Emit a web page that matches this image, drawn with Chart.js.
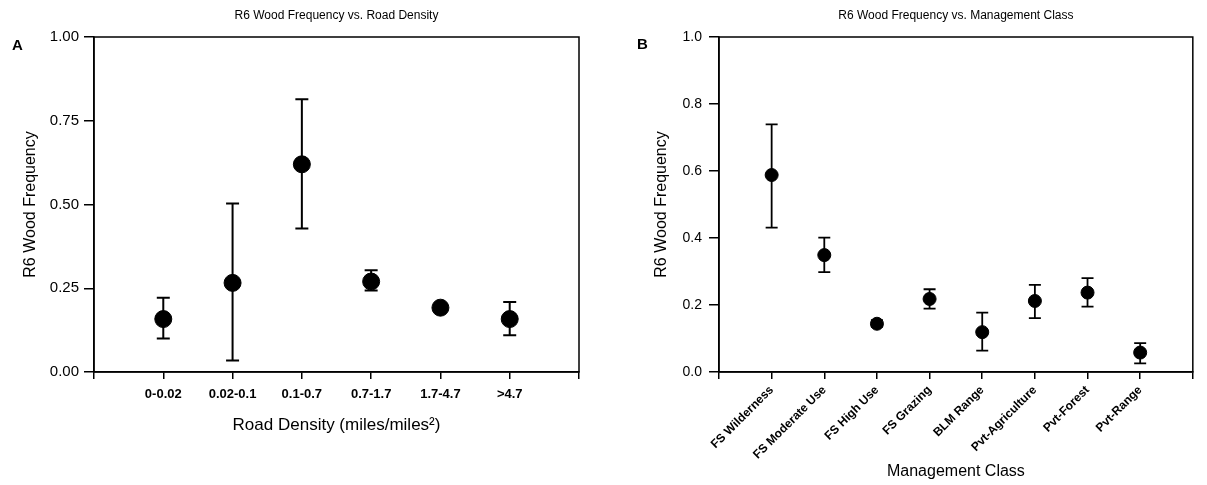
<!DOCTYPE html>
<html>
<head>
<meta charset="utf-8">
<script src="https://cdn.jsdelivr.net/npm/chart.js@4"></script>
<style>
  body { margin: 0; background: #fff; width: 1207px; height: 485px; position: relative; overflow: hidden; }
  .panel { position: absolute; top: 0; height: 485px; }
  .tag { position: absolute; font: bold 15px 'Liberation Sans', Arial, sans-serif; color: #000; }
</style>
</head>
<body>
<div class="panel" style="left:0;width:600px"><canvas id="roadChart" width="600" height="485"></canvas></div>
<div class="panel" style="left:600px;width:607px"><canvas id="mgmtChart" width="607" height="485"></canvas></div>
<div class="tag" style="left:12px;top:36px">A</div>
<div class="tag" style="left:637px;top:35px">B</div>
<script>
// Panel A data
var roadCategories = ['0-0.02', '0.02-0.1', '0.1-0.7', '0.7-1.7', '1.7-4.7', '>4.7'];
var roadMean = [0.158, 0.266, 0.62, 0.27, 0.192, 0.158];
var roadLow = [0.10, 0.034, 0.428, 0.243, 0.183, 0.11];
var roadHigh = [0.222, 0.503, 0.814, 0.304, 0.201, 0.209];

// Panel B data
var mgmtCategories = ['FS Wilderness', 'FS Moderate Use', 'FS High Use', 'FS Grazing', 'BLM Range', 'Pvt-Agriculture', 'Pvt-Forest', 'Pvt-Range'];
var mgmtMean = [0.588, 0.349, 0.144, 0.218, 0.119, 0.212, 0.237, 0.058];
var mgmtLow = [0.431, 0.298, 0.135, 0.189, 0.064, 0.161, 0.195, 0.026];
var mgmtHigh = [0.739, 0.401, 0.155, 0.247, 0.177, 0.26, 0.28, 0.086];

var roadTicksA = [0, 0.25, 0.5, 0.75, 1];
var mgmtTicksB = [0, 0.2, 0.4, 0.6, 0.8, 1];

Chart.defaults.font.family = "'Liberation Sans', Arial, sans-serif";
Chart.defaults.color = '#000';

// vertical error bars with caps, placed through the chart scales
var errorBars = {
  id: 'errorBars',
  beforeDatasetsDraw: function (chart, args, opts) {
    var ctx = chart.ctx, x = chart.scales.x, y = chart.scales.y;
    ctx.save();
    ctx.strokeStyle = '#000';
    ctx.lineWidth = opts.width;
    opts.low.forEach(function (lo, i) {
      var px = x.getPixelForValue(i + 1);
      var top = y.getPixelForValue(opts.high[i]);
      var bot = y.getPixelForValue(lo);
      ctx.beginPath();
      ctx.moveTo(px, top); ctx.lineTo(px, bot);
      ctx.moveTo(px - opts.cap, top); ctx.lineTo(px + opts.cap, top);
      ctx.moveTo(px - opts.cap, bot); ctx.lineTo(px + opts.cap, bot);
      ctx.stroke();
    });
    ctx.restore();
  }
};

// box round the plot area
var frame = {
  id: 'frame',
  afterDraw: function (chart) {
    var a = chart.chartArea, ctx = chart.ctx;
    ctx.save();
    ctx.strokeStyle = '#000';
    ctx.lineWidth = 1.5;
    ctx.strokeRect(a.left, a.top, a.right - a.left, a.bottom - a.top);
    ctx.restore();
  }
};

function points(means) {
  return means.map(function (v, i) { return { x: i + 1, y: v }; });
}

// Panel A
var roadCtx = document.getElementById('roadChart').getContext('2d');
var roadChart = new Chart(roadCtx, {
  type: 'scatter',
  data: {
    datasets: [{
      data: points(roadMean),
      backgroundColor: '#000',
      borderColor: '#000',
      pointRadius: 8.5,
      pointHoverRadius: 8.5
    }]
  },
  options: {
    responsive: false,
    animation: false,
    layout: { padding: { left: 17, right: 21, top: 2, bottom: 45 } },
    plugins: {
      legend: { display: false },
      tooltip: { enabled: false },
      title: {
        display: true,
        text: 'R6 Wood Frequency vs. Road Density',
        fullSize: false,
        font: { size: 12, weight: 'normal' },
        padding: { top: 6, bottom: 14.6 }
      },
      errorBars: { low: roadLow, high: roadHigh, cap: 6.5, width: 2 }
    },
    scales: {
      x: {
        type: 'linear', min: 0, max: roadCategories.length + 1,
        afterFit: function (s) { s.height = 68; },
        afterBuildTicks: function (s) {
          s.ticks = [];
          for (var i = 0; i <= roadCategories.length + 1; i++) s.ticks.push({ value: i });
        },
        ticks: {
          autoSkip: false, maxRotation: 0, padding: 8,
          font: { size: 13, weight: 'bold' },
          callback: function (v) { return roadCategories[v - 1] || ''; }
        },
        grid: { drawOnChartArea: false, tickLength: 7, color: '#000', lineWidth: 1.5 },
        border: { color: '#000', width: 1.5 },
        title: { display: true, text: 'Road Density (miles/miles\u00b2)', font: { size: 17 }, padding: { top: 4, bottom: 4 } }
      },
      y: {
        min: 0, max: 1,
        afterFit: function (s) { s.width = 77; },
        afterBuildTicks: function (s) { s.ticks = roadTicksA.map(function (v) { return { value: v }; }); },
        ticks: { padding: 5, font: { size: 15 }, callback: function (v) { return v.toFixed(2); } },
        grid: { drawOnChartArea: false, tickLength: 10, color: '#000', lineWidth: 1.5 },
        border: { color: '#000', width: 1.5 },
        title: { display: true, text: 'R6 Wood Frequency', font: { size: 16 }, padding: 4 }
      }
    }
  },
  plugins: [errorBars, frame]
});

// Panel B
var mgmtCtx = document.getElementById('mgmtChart').getContext('2d');
var mgmtChart = new Chart(mgmtCtx, {
  type: 'scatter',
  data: {
    datasets: [{
      data: points(mgmtMean),
      backgroundColor: '#000',
      borderColor: '#000',
      pointRadius: 6.5,
      pointHoverRadius: 6.5
    }]
  },
  options: {
    responsive: false,
    animation: false,
    layout: { padding: { left: 48, right: 4, top: 2, bottom: 0 } },
    plugins: {
      legend: { display: false },
      tooltip: { enabled: false },
      title: {
        display: true,
        text: 'R6 Wood Frequency vs. Management Class',
        fullSize: false,
        font: { size: 12, weight: 'normal' },
        padding: { top: 6, bottom: 14.6 }
      },
      errorBars: { low: mgmtLow, high: mgmtHigh, cap: 6, width: 1.8 }
    },
    scales: {
      x: {
        type: 'linear', min: 0, max: mgmtCategories.length + 1,
        afterFit: function (s) { s.height = 113; },
        afterBuildTicks: function (s) {
          s.ticks = [];
          for (var i = 0; i <= mgmtCategories.length + 1; i++) s.ticks.push({ value: i });
        },
        ticks: {
          autoSkip: false, minRotation: 45, maxRotation: 45, padding: 4,
          font: { size: 12, weight: 'bold' },
          callback: function (v) { return mgmtCategories[v - 1] || ''; }
        },
        grid: { drawOnChartArea: false, tickLength: 7, color: '#000', lineWidth: 1.5 },
        border: { color: '#000', width: 1.5 },
        title: { display: true, text: 'Management Class', font: { size: 16 }, padding: { top: 4, bottom: 4 } }
      },
      y: {
        min: 0, max: 1,
        afterFit: function (s) { s.width = 71; },
        afterBuildTicks: function (s) { s.ticks = mgmtTicksB.map(function (v) { return { value: v }; }); },
        ticks: { padding: 7, font: { size: 14 }, callback: function (v) { return v.toFixed(1); } },
        grid: { drawOnChartArea: false, tickLength: 10, color: '#000', lineWidth: 1.5 },
        border: { color: '#000', width: 1.5 },
        title: { display: true, text: 'R6 Wood Frequency', font: { size: 16 }, padding: 4 }
      }
    }
  },
  plugins: [errorBars, frame]
});
</script>
</body>
</html>
